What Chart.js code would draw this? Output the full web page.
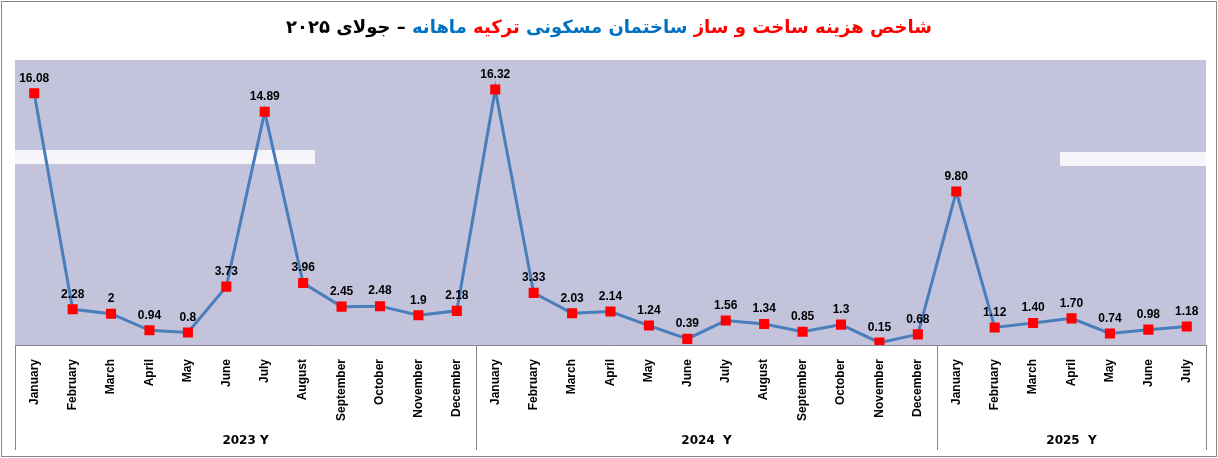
<!DOCTYPE html>
<html><head><meta charset="utf-8">
<script src="https://cdn.jsdelivr.net/npm/chart.js@4"></script>
<style>
html,body{margin:0;padding:0;background:#fff;}
#wrap{position:relative;width:1218px;height:458px;}
#title{position:absolute;left:0;top:16px;width:1218px;text-align:center;font:bold 18px "DejaVu Sans",sans-serif;direction:rtl;}
</style></head><body>
<div id="wrap"><canvas id="c" width="1218" height="458"></canvas>
<div id="title"><span style="color:#ff0000">شاخص هزینه ساخت و ساز </span><span style="color:#0070c0">ساختمان مسکونی</span><span style="color:#ff0000"> ترکیه </span><span style="color:#0070c0"> ماهانه </span><span style="color:#000">– جولای ۲۰۲۵</span></div>
</div>
<script>
const months=["January","February","March","April","May","June","July","August","September","October","November","December"];
const categories=[...months,...months,...months.slice(0,7)];
const values=[16.08,2.28,2,0.94,0.8,3.73,14.89,3.96,2.45,2.48,1.9,2.18,16.32,3.33,2.03,2.14,1.24,0.39,1.56,1.34,0.85,1.3,0.15,0.68,9.80,1.12,1.40,1.70,0.74,0.98,1.18];
const valueLabels=["16.08","2.28","2","0.94","0.8","3.73","14.89","3.96","2.45","2.48","1.9","2.18","16.32","3.33","2.03","2.14","1.24","0.39","1.56","1.34","0.85","1.3","0.15","0.68","9.80","1.12","1.40","1.70","0.74","0.98","1.18"];
const years=[{label:"2023 Y",from:0,to:11},{label:"2024  Y",from:12,to:23},{label:"2025  Y",from:24,to:30}];

const deco={id:'deco',
beforeDraw(ch){const {ctx,chartArea:a}=ch;ctx.save();
 ctx.fillStyle='#c3c3dc';ctx.fillRect(a.left,a.top,a.right-a.left,a.bottom-a.top);
 ctx.fillStyle='rgba(255,255,255,0.85)';
 ctx.fillRect(a.left,a.top+90,300,14);ctx.fillRect(1060,a.top+92,a.right-1060,14);
 ctx.restore();},
afterDraw(ch){const {ctx,chartArea:a,scales:{x,y}}=ch;ctx.save();
 ctx.strokeStyle='#888';ctx.lineWidth=1;
 ctx.strokeRect(1.5,1.5,1215,455);
 ctx.beginPath();ctx.moveTo(a.left,a.bottom+0.5);ctx.lineTo(a.right,a.bottom+0.5);
 const bx=[a.left];years.slice(1).forEach(yr=>bx.push((x.getPixelForValue(yr.from)+x.getPixelForValue(yr.from-1))/2));bx.push(a.right);
 bx.forEach(p=>{ctx.moveTo(Math.round(p)+0.5,a.bottom);ctx.lineTo(Math.round(p)+0.5,450);});
 ctx.stroke();
 ctx.fillStyle='#000';ctx.font='bold 12px "DejaVu Sans", sans-serif';ctx.textAlign='center';ctx.textBaseline='middle';
 years.forEach((yr,i)=>{ctx.fillText(yr.label,(bx[i]+bx[i+1])/2,441);});
 const meta=ch.getDatasetMeta(0);
 ctx.font='bold 12px "Liberation Sans", sans-serif';ctx.textBaseline='bottom';
 meta.data.forEach((p,i)=>{ctx.fillText(valueLabels[i],p.x,p.y-9);});
 ctx.restore();}};

new Chart(document.getElementById('c'),{type:'line',
data:{labels:categories,datasets:[{data:values,borderColor:'#4a7ebb',borderWidth:3,pointStyle:'rect',pointRadius:5,pointBackgroundColor:'#ff0000',pointBorderColor:'#ff0000',tension:0}]},
options:{responsive:false,animation:false,
 layout:{padding:{left:15,right:12,top:60,bottom:0}},
 plugins:{legend:{display:false},tooltip:{enabled:false}},
 scales:{
  y:{display:false,min:0,max:18.2},
  x:{offset:true,grid:{display:false},border:{display:false},
     afterFit(s){s.height=113;},
     ticks:{autoSkip:false,minRotation:90,maxRotation:90,padding:6,color:'#000',font:{family:'"Liberation Sans", sans-serif',size:12,weight:'bold'}}}}},
plugins:[deco]});
</script></body></html>
